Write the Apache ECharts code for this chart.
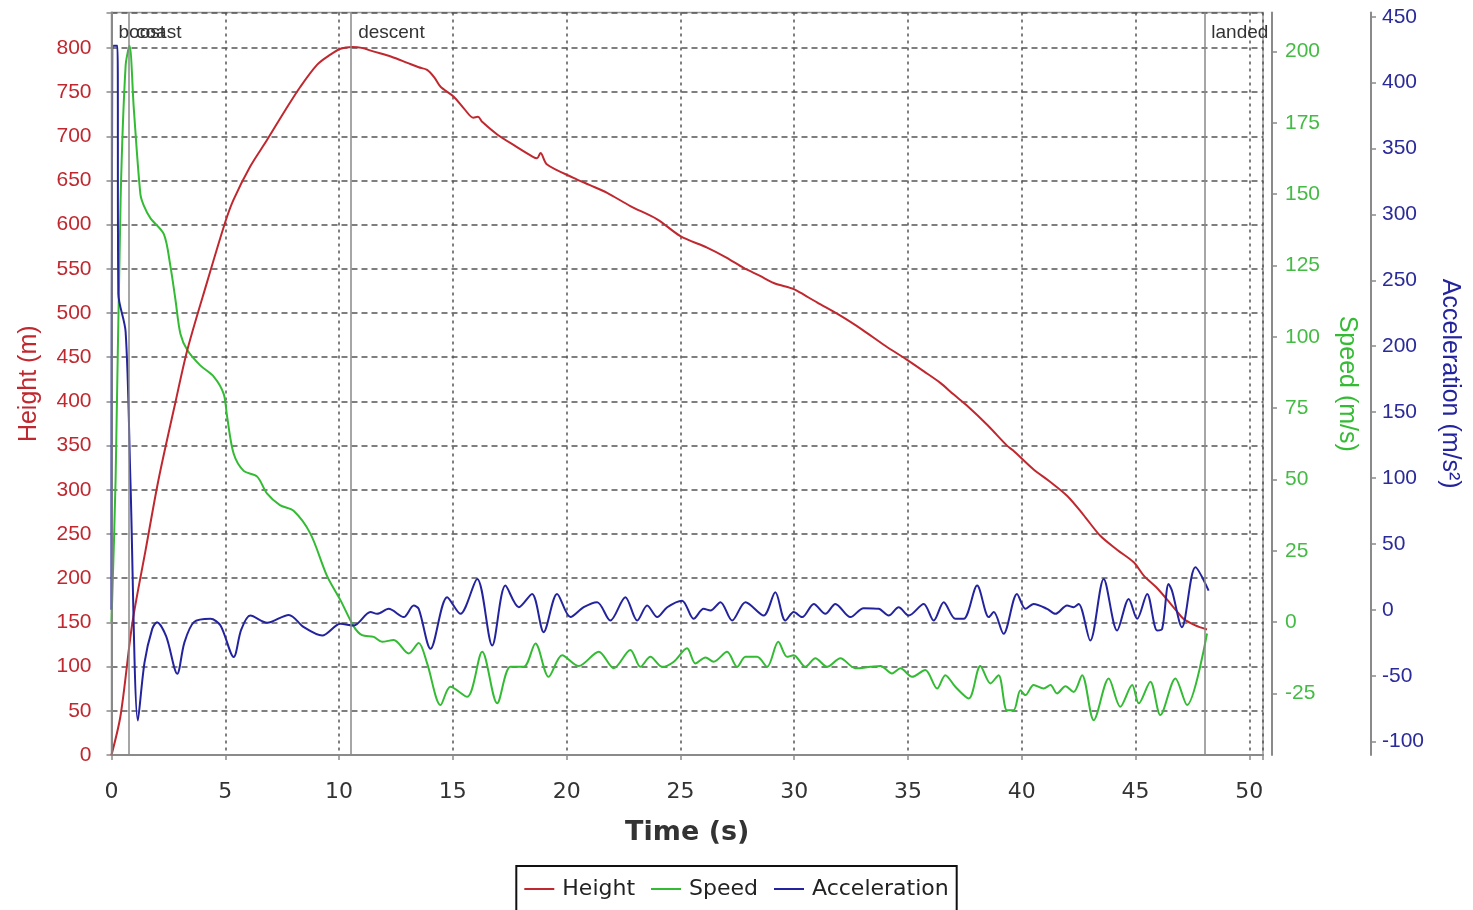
<!DOCTYPE html>
<html>
<head>
<meta charset="utf-8">
<title>Flight profile</title>
<script src="https://cdn.jsdelivr.net/npm/echarts@6.0.0/dist/echarts.min.js"></script>
<style>
  html, body { margin: 0; padding: 0; background: #fff; }
  #chart { width: 1473px; height: 910px; }
</style>
</head>
<body>
<div id="chart"></div>
<script>
  // [time (s), height (m)]
  const heightData = [
    [0, 0], [0.4, 45], [0.92, 150], [1.5, 232], [2.07, 312], [2.8, 398], [3.34, 459], [4.2, 535],
    [5.0, 603], [5.36, 628], [6.1, 666], [6.84, 696], [7.6, 728], [8.3, 756], [9.04, 781], [9.6, 792],
    [10.06, 799], [10.58, 801], [11.0, 800], [11.5, 796], [12.3, 790], [13.0, 783], [13.5, 778],
    [13.87, 775], [14.2, 766], [14.46, 756], [15.03, 745], [15.5, 731], [15.9, 721], [16.1, 722],
    [16.3, 716], [16.95, 702], [17.8, 688], [18.5, 677], [18.7, 675], [18.85, 681], [19.14, 668],
    [20.3, 653], [21.0, 645], [21.78, 636], [22.8, 621], [23.98, 606], [25.0, 587], [26.17, 574],
    [27.0, 563], [27.78, 551], [28.5, 542], [29.1, 534], [29.98, 527], [30.27, 523], [31.0, 512],
    [32.03, 497], [33.0, 481], [34.0, 463], [34.96, 447], [35.7, 434], [36.42, 421], [37.0, 408],
    [37.6, 395], [38.5, 373], [39.35, 350], [39.6, 345], [40.52, 323], [41.2, 310], [42.0, 293],
    [42.7, 272], [43.45, 248], [44.2, 232], [44.92, 218], [45.36, 203], [45.9, 190], [46.38, 176],
    [46.8, 163], [47.11, 154], [47.6, 147], [48.14, 142]
  ];
  // [time (s), speed (m/s)]
  const speedData = [
    [0, 0], [0.18, 50], [0.4, 148], [0.62, 195], [0.79, 202], [0.98, 180], [1.27, 150], [1.42, 146],
    [1.71, 141.6], [2.3, 136], [2.59, 124.7], [2.81, 113], [3.03, 101], [3.33, 95.4], [3.9, 90],
    [4.5, 86], [4.93, 80], [5.08, 72], [5.37, 59], [5.81, 53], [6.4, 51], [6.84, 45], [7.4, 41],
    [8.0, 39], [8.74, 31], [9.48, 16], [10.06, 7.7], [10.65, -1.6], [11.01, -4.6], [11.52, -5.2],
    [11.89, -6.9], [12.4, -6.3], [13.06, -11.0], [13.5, -7.3], [13.87, -14.5], [14.46, -29.1],
    [14.89, -22.7], [15.63, -26.2], [16.29, -10.4], [16.95, -28.5], [17.53, -15.7], [18.12, -15.7],
    [18.63, -7.5], [19.21, -19.2], [19.8, -11.6], [20.53, -15.4], [21.41, -10.4], [22.07, -16.2],
    [22.8, -9.8], [23.24, -15.7], [23.68, -12.2], [24.2, -15.7], [24.71, -13.9], [25.29, -9.2],
    [25.66, -14.5], [26.1, -12.4], [26.46, -13.9], [27.05, -10.4], [27.49, -15.7], [27.86, -12.2],
    [28.37, -12.2], [28.81, -15.7], [29.3, -6.9], [29.69, -12.2], [29.98, -11.6], [30.49, -15.7],
    [30.93, -12.7], [31.45, -15.7], [32.03, -12.7], [32.69, -16.2], [33.35, -15.7], [33.79, -15.4],
    [34.3, -18.0], [34.67, -16.2], [35.18, -19.2], [35.76, -16.8], [36.28, -23.3], [36.64, -18.6],
    [37.08, -22.7], [37.67, -26.8], [38.18, -15.4], [38.62, -21.5], [38.98, -18.6], [39.35, -30.9],
    [39.64, -30.9], [39.94, -23.9], [40.16, -25.6], [40.52, -22.1], [40.96, -23.3], [41.26, -22.1],
    [41.55, -25.0], [41.92, -22.5], [42.28, -24.5], [42.65, -18.6], [43.16, -34.4], [43.82, -19.8],
    [44.33, -29.7], [44.85, -22.1], [45.14, -28.5], [45.65, -20.9], [46.09, -32.6], [46.75, -19.8],
    [47.26, -29.1], [48.14, -4.0]
  ];
  // [time (s), acceleration (m/s²)]
  const accelData = [
    [0, 0], [0.08, 428], [0.26, 428], [0.3, 240], [0.62, 211], [0.83, 99], [1.16, -84], [1.45, -40],
    [1.79, -14.4], [2.0, -9.3], [2.4, -20], [2.89, -48.5], [3.2, -25], [3.62, -9.3], [4.35, -6.8],
    [4.79, -11.9], [5.37, -35.8], [5.7, -15], [6.1, -4.3], [6.84, -9.8], [7.79, -3.8], [8.45, -13.1],
    [9.26, -19.5], [10.06, -10.6], [10.65, -11.9], [11.38, -1.7], [11.67, -3.0], [12.18, 0.8],
    [12.84, -5.5], [13.28, 3.3], [13.5, 0.8], [14.02, -29.5], [14.75, 9.6], [15.33, -3.0],
    [16.07, 23.5], [16.73, -27], [17.31, 18.4], [17.9, 2.0], [18.48, 12.1], [18.99, -16.9],
    [19.58, 12.1], [20.17, -5.5], [20.75, 2.0], [21.34, 5.8], [21.92, -8.1], [22.58, 9.6],
    [23.1, -8.1], [23.54, 3.3], [23.98, -5.5], [24.42, 2.0], [25.07, 7.0], [25.58, -6.8],
    [26.02, 0.8], [26.32, -0.5], [26.76, 5.8], [27.27, -8.1], [27.86, 5.8], [28.66, -4.3],
    [29.17, 13.4], [29.61, -8.1], [29.98, -1.7], [30.35, -5.5], [30.86, 4.5], [31.37, -3.0],
    [31.81, 4.5], [32.47, -5.5], [33.05, 1.3], [33.71, 0.8], [34.15, -4.3], [34.59, 2.0],
    [35.03, -4.3], [35.69, 4.5], [36.13, -8.1], [36.57, 5.8], [37.08, -6.8], [37.45, -6.8],
    [38.04, 18.4], [38.55, -5.5], [38.77, -1.7], [39.2, -18.2], [39.79, 12.1], [40.16, 0.8],
    [40.52, 4.5], [41.11, 0.8], [41.48, -3.0], [41.99, 3.3], [42.28, 2.0], [42.5, 4.5],
    [43.01, -23.3], [43.6, 23.5], [44.19, -15.7], [44.7, 8.3], [45.07, -6.8], [45.51, 12.1],
    [45.95, -15.7], [46.17, -14.4], [46.45, 19.7], [46.6, 14.6], [47.04, -13.1], [47.63, 32.3],
    [48.21, 14.6]
  ];
  // flight events
  const phaseNames = ['boost', 'coast', 'descent', 'landed'];
  const phaseTimes = [0, 0.77, 10.53, 48.02];
  // tick labels on the two right axes
  const speedTicks = [-25, 0, 25, 50, 75, 100, 125, 150, 175, 200];
  const accelTicks = [-100, -50, 0, 50, 100, 150, 200, 250, 300, 350, 400, 450];

  const RED = '#c0282f', GREEN = '#33bb33', BLUE = '#23239e';
  const AXIS = '#8a8a8a';
  const tickFont = 'Liberation Sans, Arial, sans-serif';

  const chart = echarts.init(document.getElementById('chart'));

  function sideAxis(opt) {
    // 右侧两个 y 轴共用的样式
    return Object.assign({
      type: 'value',
      position: 'right',
      nameLocation: 'middle',
      nameRotate: -90,
      splitLine: { show: false },
      axisLine: { show: true, lineStyle: { color: AXIS, width: 2 } }
    }, opt);
  }

  chart.setOption({
    animation: false,
    backgroundColor: '#fff',
    grid: {
      left: 111.5,
      right: 210,
      top: 12.5,
      bottom: 155,
      show: true,
      borderColor: '#999',
      borderWidth: 1.5
    },
    legend: {
      data: ['Height', 'Speed', 'Acceleration'],
      top: 866,
      left: 'center',
      icon: 'rect',
      borderColor: '#111',
      borderWidth: 2,
      padding: [12, 8, 24, 8],
      itemGap: 16,
      itemWidth: 30,
      itemHeight: 2,
      textStyle: { fontSize: 22, color: '#222', fontFamily: 'DejaVu Sans', padding: [0, 0, 0, 3] }
    },
    xAxis: {
      type: 'value',
      min: 0,
      max: 50.6,
      interval: 5,
      offset: 8,
      name: 'Time (s)',
      nameLocation: 'middle',
      nameGap: 56,
      nameTextStyle: { fontSize: 27, fontWeight: 'bold', color: '#333', fontFamily: 'DejaVu Sans' },
      axisLine: { lineStyle: { color: AXIS, width: 2 } },
      axisTick: { show: true, length: 5, lineStyle: { color: AXIS, width: 1.5 } },
      axisLabel: {
        fontSize: 22, color: '#333', fontFamily: 'DejaVu Sans', margin: 18,
        formatter: v => (v % 5 === 0 ? String(v) : '')
      },
      splitLine: { show: true, lineStyle: { color: '#555', type: [3, 4], width: 1.5 } }
    },
    yAxis: [{
      type: 'value',
      position: 'left',
      min: 0,
      max: 840,
      interval: 50,
      offset: 10,
      name: 'Height (m)',
      nameLocation: 'middle',
      nameGap: 60,
      nameTextStyle: { color: RED, fontSize: 25, fontFamily: tickFont },
      axisLine: { show: true, lineStyle: { color: AXIS, width: 2 } },
      axisTick: { show: true, length: 5, lineStyle: { color: AXIS, width: 1.5 } },
      axisLabel: {
        color: RED, fontSize: 21, fontFamily: tickFont, margin: 10,
        formatter: v => (v % 50 === 0 ? String(v) : '')
      },
      splitLine: { show: true, lineStyle: { color: '#555', type: [6, 4], width: 1.5 } }
    }, sideAxis({
      min: -46.6,
      max: 213.7,
      offset: 9,
      name: 'Speed (m/s)',
      nameGap: 62,
      nameTextStyle: { color: GREEN, fontSize: 25, fontFamily: tickFont },
      axisTick: { show: true, length: 5, customValues: speedTicks, lineStyle: { color: AXIS, width: 1.5 } },
      axisLabel: { color: '#44bb44', fontSize: 21, fontFamily: tickFont, margin: 13, customValues: speedTicks }
    }), sideAxis({
      min: -110.1,
      max: 453.2,
      offset: 108,
      name: 'Acceleration (m/s²)',
      nameGap: 66,
      nameTextStyle: { color: BLUE, fontSize: 25, fontFamily: tickFont },
      axisTick: { show: true, length: 5, customValues: accelTicks, lineStyle: { color: AXIS, width: 1.5 } },
      axisLabel: { color: '#2a2a9a', fontSize: 21, fontFamily: tickFont, margin: 11, customValues: accelTicks }
    })],
    series: [{
      name: 'Height',
      type: 'line',
      yAxisIndex: 0,
      symbol: 'none',
      smooth: 0.3,
      data: heightData,
      lineStyle: { color: RED, width: 2 },
      itemStyle: { color: RED },
      z: 3,
      markLine: {
        silent: true,
        symbol: 'none',
        lineStyle: { color: '#888', type: 'solid', width: 1.5 },
        label: {
          show: true,
          position: 'end',
          align: 'left',
          verticalAlign: 'top',
          distance: 0,
          padding: [11, 0, 0, 7],
          color: '#333',
          fontSize: 19,
          fontFamily: tickFont,
          formatter: p => p.name
        },
        data: phaseTimes.map((t, i) => ({ name: phaseNames[i], xAxis: t }))
      }
    }, {
      name: 'Speed',
      type: 'line',
      yAxisIndex: 1,
      symbol: 'none',
      smooth: 0.3,
      data: speedData,
      lineStyle: { color: GREEN, width: 2 },
      itemStyle: { color: GREEN },
      z: 2
    }, {
      name: 'Acceleration',
      type: 'line',
      yAxisIndex: 2,
      symbol: 'none',
      smooth: 0.3,
      data: accelData,
      lineStyle: { color: BLUE, width: 2 },
      itemStyle: { color: BLUE },
      z: 4
    }]
  });
</script>
</body>
</html>
